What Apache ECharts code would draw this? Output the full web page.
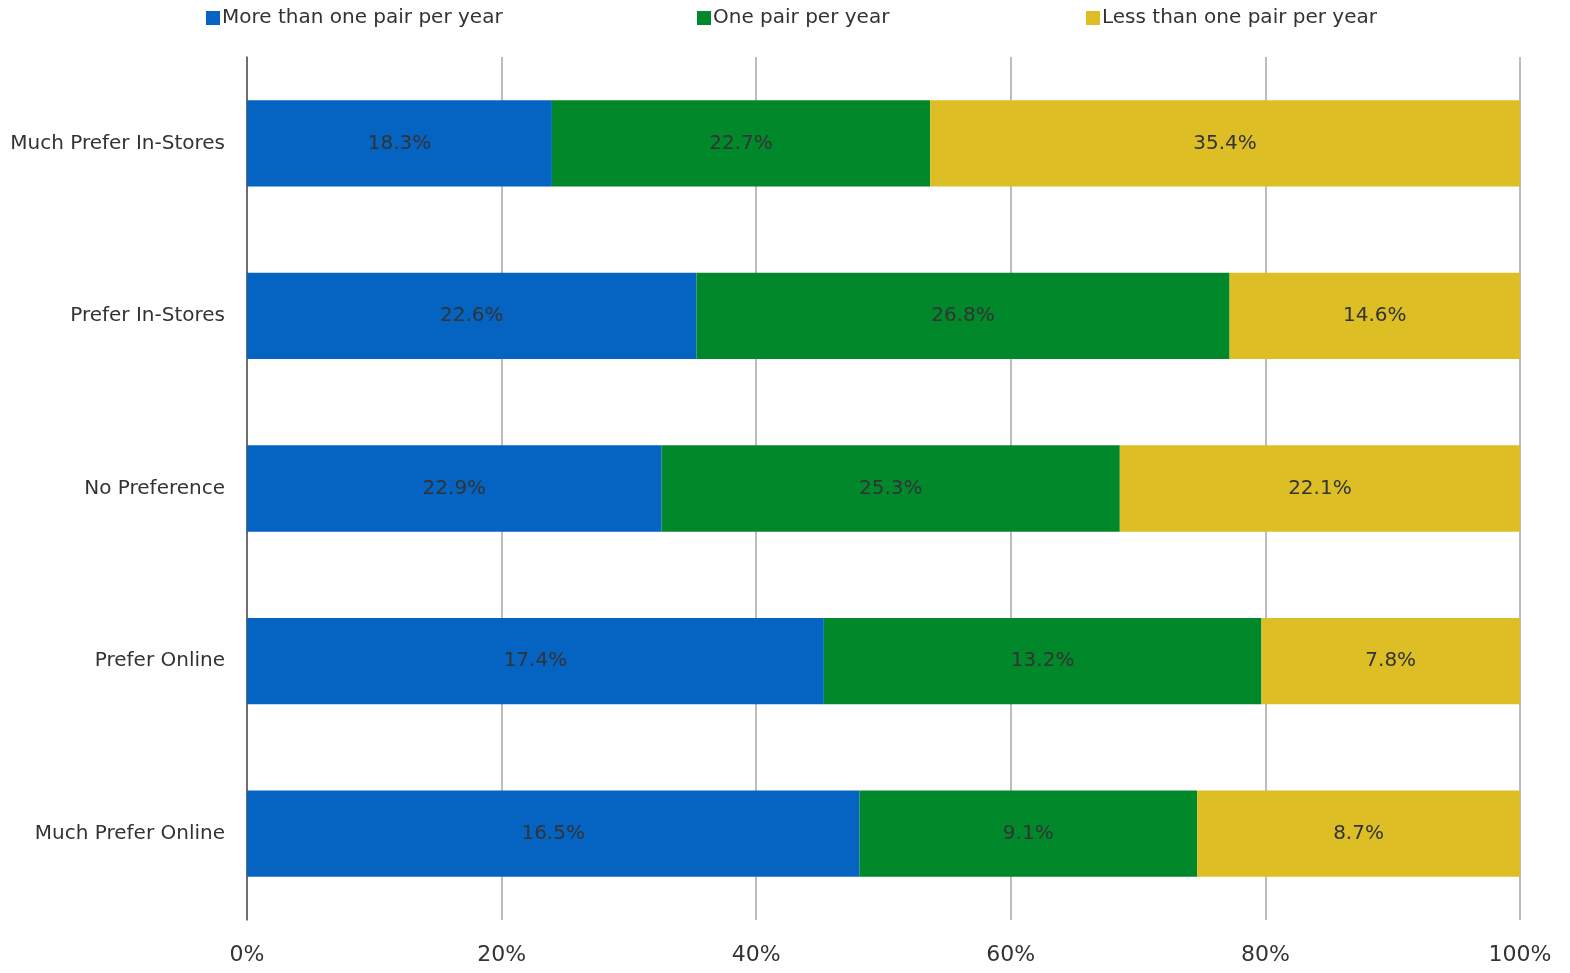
<!DOCTYPE html>
<html><head><meta charset="utf-8">
<script src="https://cdn.jsdelivr.net/npm/echarts@6/dist/echarts.min.js"></script>
<style>html,body{margin:0;padding:0;background:#fff}#c{width:1570px;height:973px}</style>
</head><body><div id="c"></div>
<script>
const categories = ["Much Prefer In-Stores","Prefer In-Stores","No Preference","Prefer Online","Much Prefer Online"];
const seriesNames = ["More than one pair per year","One pair per year","Less than one pair per year"];
const moreThanOne = [18.3, 22.6, 22.9, 17.4, 16.5];
const onePair = [22.7, 26.8, 25.3, 13.2, 9.1];
const lessThanOne = [35.4, 14.6, 22.1, 7.8, 8.7];
const tickLabels = ["0%","20%","40%","60%","80%","100%"];
const colors = ["#0563C1","#00882B","#DDBE24"];

const raw = [moreThanOne, onePair, lessThanOne];
const totals = categories.map((_, i) => raw.reduce((s, a) => s + a[i], 0));
const FONT = "DejaVu Sans";

const chart = echarts.init(document.getElementById('c'));
const legendPos = [201, 692, 1081];
chart.setOption({
  animation: false,
  textStyle: {fontFamily: FONT},
  legend: seriesNames.map((n, k) => ({
    data: [n], left: legendPos[k], top: 3, itemWidth: 14, itemHeight: 14, itemGap: 0,
    icon: 'rect', textStyle: {fontFamily: FONT, fontSize: 20, color: '#333', padding: [0,0,0,-3]}
  })),
  grid: {left: 247, right: 50, top: 57, bottom: 53, containLabel: false},
  xAxis: {
    type: 'value', min: 0, max: 100, interval: 20,
    axisLabel: {formatter: v => tickLabels[v/20], fontSize: 22, color: '#333', margin: 24, fontFamily: FONT},
    splitLine: {show: true, lineStyle: {color: '#A6A6A6', width: 1.5}},
    axisLine: {show: false}, axisTick: {show: false}
  },
  yAxis: {
    type: 'category', data: categories, inverse: true,
    axisLabel: {fontSize: 20, color: '#333', margin: 22, fontFamily: FONT, padding: [4,0,0,0]},
    axisLine: {show: true, lineStyle: {color: '#555', width: 1.5}},
    axisTick: {show: false}
  },
  series: seriesNames.map((n, k) => ({
    name: n, type: 'bar', stack: 'total', barWidth: '50%',
    itemStyle: {color: colors[k]},
    label: {show: true, position: 'inside', fontSize: 20, color: '#333', fontFamily: FONT, padding: [4,0,0,0],
      formatter: p => raw[k][p.dataIndex].toFixed(1) + '%'},
    data: raw[k].map((v, i) => v / totals[i] * 100)
  }))
});
</script></body></html>
